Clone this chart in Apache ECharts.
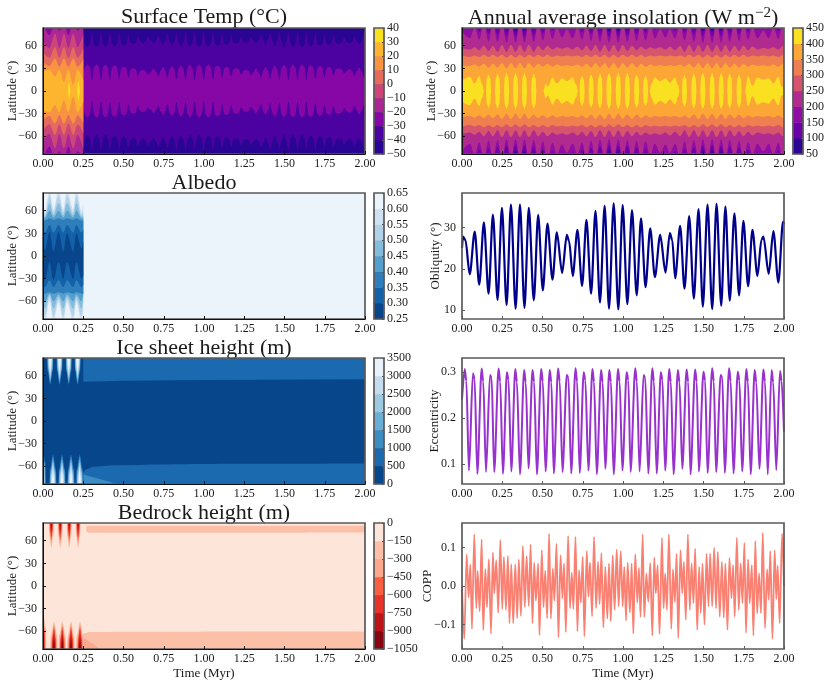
<!DOCTYPE html>
<html><head><meta charset="utf-8">
<style>html,body{margin:0;padding:0;background:#fff}#c{width:831px;height:685px}</style>
<script src="https://cdn.jsdelivr.net/npm/echarts@6/dist/echarts.min.js"></script>
</head><body><div id="c"></div>
<script>
// ---------- line panels: values
const oblT=[0,.006,.021,.048,.079,.107,.136,.165,.192,.221,
.248,.277,.304,.333,.360,.388,.415,.446,.473,.502,
.531,.562,.589,.622,.651,.665,.688,.717,.746,.773,
.802,.829,.857,.886,.913,.942,.971,.998,1.027,1.056,
1.085,1.112,1.140,1.169,1.198,1.231,1.264,1.291,1.306,1.324,
1.355,1.382,1.411,1.440,1.469,1.496,1.525,1.554,1.581,1.610,
1.636,1.663,1.692,1.721,1.748,1.777,1.804,1.835,1.860,1.872,
1.905,1.934,1.965,1.994,2.0];
const oblV=[25,27.8,27,18.7,29,16.2,31.2,14,33.1,12.5,
34.7,11.3,35.5,10.4,35.5,10.6,34.7,12.4,33,14.8,
30.9,17.4,28.8,19,28.2,26.7,18.3,29.4,15.9,31.8,
14,34,11.9,35.2,10.4,35.8,10.2,35.4,11.5,34.2,
13.6,32.2,15.6,29.8,18,28.2,19.1,28.6,26.9,17.7,
30.4,15.2,32.7,12.8,34.4,10.9,35.5,10.3,35.7,11.1,
35,12.3,33.4,13.6,31.6,15.8,29.4,18.3,27,27.8,
18.8,29.1,16.7,31.4,30.7];

const eccPeakT=[.017,.068,.122,.174,.227,.279,.331,.386,.438,.492,.545,.597,.651,.705,.756,.810,.864,.915,.969,1.023,1.076,1.128,1.182,1.235,1.287,1.341,1.395,1.448,1.500,1.554,1.607,1.659,1.713,1.766,1.818,1.872,1.923,1.975];
const eccPeakV=[.306,.297,.307,.293,.307,.299,.306,.304,.304,.306,.304,.307,.293,.308,.299,.306,.304,.304,.306,.299,.308,.293,.308,.299,.306,.304,.305,.305,.300,.308,.293,.308,.300,.306,.304,.305,.304,.302];
const eccKneeT=[.027,.078,.132,.184,.237,.289,.341,.396,.448,.502,.555,.607,.661,.715,.766,.820,.874,.925,.979,1.033,1.086,1.138,1.192,1.245,1.297,1.351,1.405,1.458,1.510,1.564,1.617,1.669,1.723,1.776,1.828,1.882,1.933,1.985];
const eccKneeV=[.280,.285,.279,.287,.279,.282,.278,.277,.278,.279,.277,.279,.287,.279,.282,.278,.277,.278,.279,.282,.279,.287,.279,.282,.278,.277,.278,.278,.281,.279,.287,.279,.281,.278,.277,.278,.277,.280];
const eccMinT=[.043,.095,.149,.200,.254,.306,.360,.413,.465,.519,.570,.624,.678,.731,.785,.837,.890,.942,.996,1.047,1.103,1.157,1.209,1.262,1.314,1.368,1.419,1.471,1.525,1.578,1.632,1.686,1.740,1.793,1.847,1.899,1.952];
const eccMinV=[.086,.079,.083,.083,.079,.084,.078,.091,.078,.084,.080,.083,.080,.081,.086,.078,.090,.078,.086,.083,.084,.080,.080,.086,.078,.090,.078,.084,.081,.083,.081,.080,.084,.078,.090,.078,.087];
const eccEndT=[0,2];
const eccEndV=[.24,.17];

const coppT=[0,.014,.029,.041,.052,.062,.076,.089,.097,.110,
.122,.132,.145,.155,.167,.180,.192,.200,.213,.225,
.238,.250,.260,.273,.285,.295,.306,.318,.331,.343,
.353,.366,.378,.390,.401,.415,.426,.438,.448,.459,
.473,.481,.496,.506,.517,.529,.541,.552,.564,.574,
.587,.599,.612,.624,.634,.645,.659,.671,.682,.692,
.705,.717,.727,.738,.750,.760,.775,.785,.795,.808,
.820,.833,.845,.855,.866,.878,.890,.903,.913,.924,
.936,.948,.961,.973,.986,.998,1.008,1.019,1.029,1.043,
1.054,1.064,1.076,1.089,1.099,1.109,1.122,1.132,1.145,1.157,
1.169,1.182,1.194,1.204,1.215,1.227,1.242,1.252,1.262,1.273,
1.285,1.300,1.310,1.322,1.333,1.343,1.357,1.368,1.378,1.390,
1.403,1.415,1.426,1.438,1.448,1.461,1.473,1.483,1.494,1.506,
1.519,1.531,1.541,1.554,1.566,1.578,1.589,1.601,1.614,1.626,
1.636,1.649,1.661,1.674,1.684,1.694,1.707,1.719,1.731,1.742,
1.754,1.764,1.777,1.787,1.800,1.810,1.822,1.833,1.845,1.857,
1.868,1.882,1.895,1.905,1.915,1.928,1.942,1.952,1.961,1.973,
1.988,2.0];
const coppV=[0,-.138,.082,-.030,.056,-.112,.134,-.058,.039,-.066,
.121,-.115,.044,-.055,.070,-.124,.087,-.019,.067,-.070,
.120,-.060,.076,-.062,.078,-.097,.057,-.097,.057,-.084,
.069,-.078,.104,-.055,.078,-.052,.108,-.097,.061,-.038,
.059,-.128,.093,-.055,.040,-.084,.136,-.085,.046,-.038,
.110,-.134,.080,-.032,.059,-.120,.130,-.058,.035,-.060,
.128,-.118,.041,-.043,.076,-.131,.091,-.028,.061,-.079,
.128,-.058,.063,-.047,.086,-.108,.050,-.085,.059,-.092,
.080,-.062,.095,-.053,.091,-.053,.050,-.090,.061,-.069,
.059,-.124,.083,-.043,.047,-.081,.134,-.081,.033,-.041,
.060,-.129,.074,-.019,.054,-.125,.125,-.058,.033,-.062,
.134,-.112,.043,-.041,.084,-.135,.093,-.019,.063,-.088,
.134,-.062,.059,-.045,.097,-.114,.050,-.071,.059,-.101,
.084,-.053,.084,-.053,.100,-.058,.089,-.080,.063,-.082,
.059,-.114,.073,-.032,.054,-.080,.126,-.062,.059,-.045,
.112,-.122,.069,-.045,.054,-.129,.117,-.071,.033,-.071,
.138,-.110,.043,-.036,.091,-.138,.093,-.034,.053,-.097,
.136,0];

// ---------- contour boundaries (latitude of each level against time)
const cycleT=[0,.048,.079,.107,.136,.165,.192,.221,.248,.277,
.304,.333,.360,.388,.415,.446,.473,.502,.531,.562,
.589,.622,.651,.688,.717,.746,.773,.802,.829,.857,
.886,.913,.942,.971,.998,1.027,1.056,1.085,1.112,1.140,
1.169,1.198,1.231,1.264,1.291,1.324,1.355,1.382,1.411,1.440,
1.469,1.496,1.525,1.554,1.581,1.610,1.636,1.663,1.692,1.721,
1.748,1.777,1.804,1.835,1.872,1.905,1.934,1.965,1.994,2.0];
const insol100=[90,90,90,90,90,88,90,84,90,82,
90,79,90,80,90,84,90,90,90,90,
90,90,90,90,90,90,90,88,90,83,
90,79,90,79,90,81,90,87,90,90,
90,90,90,90,90,90,90,90,90,85,
90,80,90,79,90,80,90,83,90,87,
90,90,90,90,90,90,90,90,90,90];
const insol150=[90,82,90,78,90,76,90,74,90,73,
90,72,90,72,90,74,90,77,90,80,
90,83,90,81,90,78,90,76,90,74,
90,72,90,72,90,73,90,75,90,77,
90,81,90,83,90,80,90,77,90,75,
90,73,90,72,90,73,90,74,90,75,
90,78,90,81,90,82,90,79,90,90];
const insol200=[80,70,84,68,90,66,90,65,90,64,
90,64,90,64,90,65,90,67,90,69,
84,71,82,70,84,68,90,66,90,65,
90,64,90,64,90,65,90,66,90,67,
86,70,82,71,82,70,90,67,90,65,
90,64,90,64,90,64,90,65,90,66,
90,68,84,70,80,70,84,69,90,88];
const insol250=[57,55,58,54,60,53,60,52,61,52,
61,52,61,52,61,52,60,54,60,55,
58,56,58,55,59,54,60,53,61,52,
61,52,61,52,61,53,60,54,59,55,
58,56,58,55,59,54,60,52,61,52,
61,52,61,52,61,52,61,52,60,53,
60,54,59,55,57,56,58,55,60,59];
const insol300=[47,45,47,45,48,45,48,45,48,44,
48,44,48,44,48,45,48,45,48,45,
47,46,47,46,47,45,48,45,48,45,
48,44,48,44,48,45,48,45,48,45,
47,46,47,46,47,46,47,45,48,45,
48,44,48,44,48,44,48,45,48,45,
48,45,47,46,47,46,47,45,48,47];
const insol350=[34,33,35,32,36,31,36,31,37,30,
37,30,37,30,37,31,36,32,36,32,
35,33,34,33,35,32,36,31,37,31,
37,30,37,30,37,31,37,31,36,32,
35,33,34,33,34,33,35,32,36,31,
37,30,37,30,37,30,37,31,36,31,
36,32,35,33,34,33,35,32,36,35];
// 400 W/m2: four merged stretches and separate lenses
const insolBlockAT=[0,.048,.079,.107,.126,.137];
const insolBlockA=[14,19,10,20,9,0];
const insolBlockBT=[.505,.52,.533,.562,.589,.622,.651,.688,.708,.722];
const insolBlockB=[0,10,6,18,10,17,13,18,9,0];
const insolBlockCT=[1.165,1.178,1.198,1.231,1.264,1.291,1.324,1.342,1.352];
const insolBlockC=[0,10,18,13,17,11,18,8,0];
const insolBlockDT=[1.757,1.777,1.804,1.835,1.872,1.905,1.934,1.965,1.985,2.0];
const insolBlockD=[0,20,7,18,15,17,10,19,6,4];
const insolLensT=[.165,.221,.277,.333,.388,.446,.746,.802,.857,.913,.971,1.027,1.085,1.140,1.382,1.440,1.496,1.554,1.610,1.663,1.721];
const insolLensH=[22,23,24,24,24,23,20,22,23,24,24,24,22,20,21,23,24,24,24,23,22];

const tempLateT=cycleT.slice(8);
const tempLate40=[78,58,
78,58,78,58,78,59,77,60,75,62,
73,63,72,63,74,61,76,60,78,59,
78,58,78,58,78,59,78,60,76,61,
74,63,72,64,72,63,75,61,77,59,
78,58,78,58,78,58,78,59,77,60,
75,61,74,63,71,63,73,62,76,75];
const tempLate30=[14,35,
14,35,14,35,14,34,15,32,18,30,
20,28,22,30,20,32,17,33,15,34,
14,35,14,35,14,35,15,33,17,32,
19,30,22,28,21,30,18,32,16,34,
15,35,14,35,14,35,14,34,16,33,
18,32,20,30,23,29,20,31,18,20];
// dome shoulders between the extrema above
const tempKneeT=[.262,.290,.318,.346,.374,.401,.430,.459,.487,.516,
.546,.575,.605,.636,.669,.702,.731,.759,.787,.815,
.843,.871,.899,.927,.956,.984,1.012,1.041,1.070,1.098,
1.126,1.154,1.183,1.214,1.247,1.277,1.307,1.339,1.368,1.396,
1.425,1.454,1.482,1.510,1.539,1.567,1.595,1.623,1.649,1.677,
1.706,1.734,1.762,1.790,1.819,1.853,1.888,1.919,1.949,1.979];
const tempKnee40=[62,62,62,62,62,62,62,62,63,63,
64,64,66,66,67,67,67,67,65,65,
64,64,63,63,62,62,62,62,62,62,
63,63,64,64,65,65,67,67,68,68,
67,67,65,65,63,63,62,62,62,62,
62,62,63,63,64,64,65,65,66,66];
const tempKnee30=[32,32,32,32,32,32,32,32,31,31,
29,29,27,27,25,25,27,27,29,29,
30,30,31,31,32,32,32,32,32,32,
30,30,29,29,27,27,25,25,27,27,
29,29,31,31,32,32,32,32,32,32,
31,31,30,30,29,29,27,27,26,26];

const tempEarlyT=[0,.039,.075,.101,.13,.157,.188,.215,.25];
const tempEarly10=[90,74,90,80,90,74,90,80,90];
const tempEarly0=[66,57,76,57,76,57,76,58,76];
const tempEarlyP10=[52,44,58,44,58,43,58,44,56];
const tempEarlyP20=[38,33,43,32,43,32,43,32,42];
const tempEarlyP30=[26,28,19,28,12,28,8,28,14];
const tempLensT=[.155,.163,.171,.21,.219,.23];
const tempLensV=[0,11,0,0,13,0];

const albT=[0,.012,.041,.065,.097,.126,.149,.188,.207,.24,.25];
const albN60=[72,60,88,62,88,62,88,62,88,60,70];
const albN55=[64,55,80,58,80,58,80,58,80,55,60];
const albN50=[56,52,70,54,70,54,70,54,70,52,54];
const albN45=[50,50,60,51,60,51,60,51,60,50,50];
const albN40=[47,47,50,48,50,48,50,48,50,47,47];
const albN35=[34,31,41,31,41,31,41,31,41,31,35];
const albN30=[20,8,32,6,32,6,30,6,30,10,20];
const albS60=[72,88,60,88,62,88,62,88,62,88,70];
const albS55=[64,80,55,80,58,80,58,80,58,80,60];
const albS50=[56,70,52,70,54,70,54,70,54,70,54];
const albS45=[52,60,50,60,51,60,51,60,51,60,50];
const albS40=[50,50,48,50,48,50,48,50,48,50,50];
const albS35=[38,41,32,41,32,41,32,41,32,41,38];
const albS30=[26,32,8,32,8,30,8,30,8,30,26];

const lobeWaist=.75;   // lobe half width fraction at the shoulder
const lobeBulge=.42;   // shoulder position between tip and pole
const iceNorthCentres=[.045,.103,.16,.215];
const iceSouthCentres=[-.004,.062,.118,.174,.228];
const iceSouthTipShift=[16,0,0,0,0];
const iceNorthTips=[48,50,53,56,60,65];
const iceNorthHalf=[.021,.019,.017,.014,.011,.008];
const iceSouthTips=[-44,-47,-51,-55,-60,-66];
const iceSouthHalf=[.025,.022,.019,.016,.012,.008];
const iceNorthEdgeT=[.25,.5,1,2];
const iceNorthEdge=[52,53.5,54.5,55.5];
const iceSouthEdgeT=[.25,.27,.31,.45,.75,1.25,2];
const iceSouthEdge=[-69,-64,-60.5,-58.5,-57.5,-56.8,-56.4];
const iceWedgeT=[.25,.47];
const iceWedge=[-71,-84];

const bedNorthCentres=[.052,.107,.163,.218];
const bedSouthCentres=[-.002,.068,.12,.174,.23];
const bedSouthTipShift=[18,0,0,0,0];
const bedNorthTips=[50,55,60,65,72,79];
const bedNorthHalf=[.017,.014,.011,.009,.006,.003];
const bedSouthTips=[-47,-50,-54,-58,-64,-71];
const bedSouthHalf=[.026,.021,.017,.013,.009,.005];
const bedNorthBandT=[.268,.272,.28,.5,2];
const bedNorthBand=[76,71.5,70.5,70.5,71];
const bedNorthCap=[76,79.5,80,80,80];
const bedSouthBandT=[.24,.26,.29,.5,2];
const bedSouthBand=[-64,-62.5,-61,-60.5,-60.3];
const bedWedgeT=[.245,.36];
const bedWedge=[-68,-84];

// ---------- colour bars
const tempLevels=[-50,-40,-30,-20,-10,0,10,20,30,40];
const insolLevels=[50,100,150,200,250,300,350,400,450];
const albLevels=[.25,.30,.35,.40,.45,.50,.55,.60,.65];
const iceLevels=[0,500,1000,1500,2000,2500,3000,3500];
const bedLevels=[-1050,-900,-750,-600,-450,-300,-150,0];
const tempColors=['#2a0593','#4c02a1','#8606a6','#ac2694','#cc4778','#e56b5d','#f89441','#fdb42f','#f9e021'];
const insolColors=['#2c0594','#6a00a8','#8f0da4','#b12a90','#d6556d','#f07f4f','#fca636','#f9e021'];
const albColors=['#08458a','#1361a9','#2e7ebc','#559fcd','#85bcdc','#b2d2e8','#d0e2f2','#ebf3fb'];
const iceColors=['#08468b','#1b69af','#3d8dc4','#6aaed6','#9dcae1','#c8dcf0','#e9f2fa'];
const bedColors=['#850610','#bd141a','#e8332a','#fb5f42','#fba88d','#fcc0a8','#fee5d9'];

const latTicks=[-60,-30,0,30,60];
const LAT=83.5;
const FONT='"Liberation Serif",serif';
const TXT='#1a1a1a';
const FRAME='#5a5a5a';
const rows=[28,193,358,523], H=126, W=322, LX=43, RX=462, CLX=374, CRX=793, CW=10;

const minus=v=>String(v).replace('-','\u2212');
const grids=[],xAxes=[],yAxes=[],series=[],graphics=[];
const zip=(a,b)=>a.map((t,i)=>[t,b[i]]);
const byT=(a,b)=>a[0]-b[0];

function frame(x,y,w,h){
  graphics.push({type:'rect',silent:true,z:100,shape:{x,y,width:w,height:h},style:{fill:'none',stroke:FRAME,lineWidth:1.7}});
}
function panel(x,y,o){
  const g=grids.length, dark=o.dark;
  const tick=(vals)=>({show:true,inside:true,length:3,customValues:vals,lineStyle:{color:dark?'#111':FRAME,width:1}});
  grids.push({left:x,top:y,width:W,height:H,containLabel:false});
  xAxes.push({type:'value',gridIndex:g,min:0,max:2,interval:.25,z:110,position:'bottom',nameMoveOverlap:false,
    axisLine:{show:!!dark,onZero:false,lineStyle:{color:'#111',width:1}},axisTick:{show:true,inside:true,length:3,lineStyle:{color:dark?'#111':FRAME,width:1}},splitLine:{show:false},
    name:o.xName||'',nameLocation:'middle',nameGap:18,nameTextStyle:{fontFamily:FONT,fontSize:13,color:TXT},
    axisLabel:{fontFamily:FONT,fontSize:12,color:TXT,margin:4,formatter:v=>v.toFixed(2)}});
  const yi=yAxes.length;
  yAxes.push({type:'value',gridIndex:g,min:o.min,max:o.max,z:110,position:'left',nameMoveOverlap:false,
    axisLine:{show:!!dark,onZero:false,lineStyle:{color:'#111',width:1}},axisTick:tick(o.ticks),splitLine:{show:false},
    name:o.yName,nameLocation:'middle',nameGap:o.nameGap,nameTextStyle:{fontFamily:FONT,fontSize:13,color:TXT},
    axisLabel:{fontFamily:FONT,fontSize:12,color:TXT,margin:6,customValues:o.ticks,formatter:o.fmt||minus}});
  frame(x,y,W,H);
  return {x:xAxes.length-1,y:yi};
}
function band(p,pts,color,origin){
  series.push({type:'line',xAxisIndex:p.x,yAxisIndex:p.y,data:pts,symbol:'none',showSymbol:false,silent:true,
    smooth:.35,smoothMonotone:'x',lineStyle:{width:0},areaStyle:{color,opacity:1,origin},animation:false});
}
function flat(p,pts,color,origin){
  series.push({type:'line',xAxisIndex:p.x,yAxisIndex:p.y,data:pts,symbol:'none',showSymbol:false,silent:true,
    lineStyle:{width:0},areaStyle:{color,opacity:1,origin},animation:false});
}
function both(p,pts,color){ // symmetric band around the equator
  band(p,pts,color,0);
  band(p,pts.map(q=>[q[0],-q[1]]),color,0);
}
function fillAll(p,t0,t1,color){
  flat(p,[[t0,0],[t1,0]],color,90);
  flat(p,[[t0,0],[t1,0]],color,-90);
}
function lobes(p,centres,tips,halves,colors,pole,shift){
  tips.forEach((tip,k)=>{
    const pts=[];
    centres.forEach((c,i)=>{
      const tp=tip+(shift?shift[i]:0), h=halves[k], sh=tp+lobeBulge*(pole-tp);
      pts.push([c-h,pole],[c-lobeWaist*h,sh],[c,tp],[c+lobeWaist*h,sh],[c+h,pole]);
    });
    band(p,pts,colors[k],pole);
  });
}
function colorbar(x,y,levels,colors,fmt){
  const g=grids.length;
  grids.push({left:x,top:y,width:CW,height:H});
  const xi=xAxes.length;
  xAxes.push({type:'category',gridIndex:g,data:[''],axisLine:{show:false},axisTick:{show:false},axisLabel:{show:false},splitLine:{show:false}});
  const yc=yAxes.length;
  yAxes.push({type:'category',gridIndex:g,data:colors.map((c,i)=>String(i)),show:false,axisLine:{show:false},axisTick:{show:false},axisLabel:{show:false},splitLine:{show:false}});
  yAxes.push({type:'value',gridIndex:g,position:'right',min:levels[0],max:levels[levels.length-1],interval:levels[1]-levels[0],z:110,
    axisLine:{show:false},axisTick:{show:true,inside:true,length:2,lineStyle:{color:FRAME,width:1}},splitLine:{show:false},
    axisLabel:{fontFamily:FONT,fontSize:12,color:TXT,margin:3,align:'left',formatter:fmt||minus}});
  series.push({type:'heatmap',xAxisIndex:xi,yAxisIndex:yc,silent:true,animation:false,
    data:colors.map((c,i)=>({value:[0,i,i],itemStyle:{color:c}}))});
  frame(x,y,CW,H);
}
const latOpt=(extra)=>Object.assign({min:-LAT,max:LAT,yName:'Latitude (\u00b0)',nameGap:24,ticks:latTicks,dark:true},extra||{});

// ---- Surface temperature
{
  const p=panel(LX,rows[0],latOpt());
  const c=tempColors;
  fillAll(p,0,2,c[0]);
  both(p,zip(tempLateT,tempLate40).concat(zip(tempKneeT,tempKnee40)).sort(byT),c[1]);
  both(p,zip(tempLateT,tempLate30).concat(zip(tempKneeT,tempKnee30)).sort(byT),c[2]);
  fillAll(p,0,.25,c[2]);
  both(p,zip(tempEarlyT,tempEarly10),c[3]);
  both(p,zip(tempEarlyT,tempEarly0),c[4]);
  both(p,zip(tempEarlyT,tempEarlyP10),c[5]);
  both(p,zip(tempEarlyT,tempEarlyP20),c[6]);
  both(p,zip(tempEarlyT,tempEarlyP30),c[7]);
  both(p,zip(tempLensT,tempLensV),c[8]);
}
// ---- Insolation
{
  const p=panel(RX,rows[0],latOpt());
  const c=insolColors;
  fillAll(p,0,2,c[0]);
  [insol100,insol150,insol200,insol250,insol300,insol350].forEach((v,i)=>both(p,zip(cycleT,v),c[i+1]));
  const lensPts=[];
  const hw=.0165;
  insolLensT.forEach((t,i)=>{
    const h=insolLensH[i];
    lensPts.push([t-hw,0],[t-.7*hw,.75*h],[t,h],[t+.7*hw,.75*h],[t+hw,0]);
  });
  const yellow=zip(insolBlockAT,insolBlockA).concat(zip(insolBlockBT,insolBlockB),zip(insolBlockCT,insolBlockC),zip(insolBlockDT,insolBlockD),lensPts).sort(byT);
  both(p,yellow,c[7]);
}
// ---- Albedo
{
  const p=panel(LX,rows[1],latOpt());
  const c=albColors;
  fillAll(p,0,2,c[7]);
  const north=[albN60,albN55,albN50,albN45,albN40,albN35,albN30];
  const south=[albS60,albS55,albS50,albS45,albS40,albS35,albS30];
  north.forEach((v,i)=>band(p,zip(albT,v),c[6-i],0));
  south.forEach((v,i)=>band(p,zip(albT,v.map(a=>-a)),c[6-i],0));
}
// ---- Ice sheet
{
  const p=panel(LX,rows[2],latOpt());
  const c=iceColors;
  fillAll(p,0,2,c[0]);
  flat(p,zip(iceNorthEdgeT,iceNorthEdge),c[1],90);
  band(p,zip(iceSouthEdgeT,iceSouthEdge),c[1],-90);
  flat(p,zip(iceWedgeT,iceWedge),c[2],-90);
  lobes(p,iceNorthCentres,iceNorthTips,iceNorthHalf,c.slice(1),90);
  lobes(p,iceSouthCentres,iceSouthTips,iceSouthHalf,c.slice(1),-90,iceSouthTipShift);
}
// ---- Bedrock
{
  const p=panel(LX,rows[3],latOpt({xName:'Time (Myr)'}));
  const c=bedColors.slice().reverse();
  fillAll(p,0,2,c[0]);
  band(p,zip(bedNorthBandT,bedNorthBand),c[1],90);
  band(p,zip(bedNorthBandT,bedNorthCap),c[0],90);
  band(p,zip(bedSouthBandT,bedSouthBand),c[1],-90);
  flat(p,zip(bedWedgeT,bedWedge),c[2],-90);
  lobes(p,bedNorthCentres,bedNorthTips,bedNorthHalf,c.slice(1),90);
  lobes(p,bedSouthCentres,bedSouthTips,bedSouthHalf,c.slice(1),-90,bedSouthTipShift);
}
// ---- Line panels
function linePanel(row,opt,pts,color,width){
  const p=panel(RX,rows[row],opt);
  series.push({type:'line',xAxisIndex:p.x,yAxisIndex:p.y,data:pts,symbol:'none',showSymbol:false,silent:true,animation:false,
    smooth:.3,smoothMonotone:'x',lineStyle:{color,width,join:'round'}});
}
linePanel(1,{min:7.9,max:38.3,yName:'Obliquity (\u00b0)',nameGap:20,ticks:[10,20,30]},zip(oblT,oblV),'#00008b',2.2);
const eccPts=zip(eccPeakT,eccPeakV).concat(zip(eccKneeT,eccKneeV),zip(eccMinT,eccMinV),zip(eccEndT,eccEndV)).sort(byT);
linePanel(2,{min:.057,max:.33,yName:'Eccentricity',nameGap:21,ticks:[.1,.2,.3],fmt:v=>v.toFixed(1)},eccPts,'#9932cc',2);
linePanel(3,{min:-.164,max:.164,yName:'COPP',nameGap:28,ticks:[-.1,0,.1],fmt:v=>minus(v.toFixed(1)),xName:'Time (Myr)'},zip(coppT,coppV),'#fa8072',1.8);

// ---- Colour bars
colorbar(CLX,rows[0],tempLevels,tempColors);
colorbar(CRX,rows[0],insolLevels,insolColors);
colorbar(CLX,rows[1],albLevels,albColors,v=>v.toFixed(2));
colorbar(CLX,rows[2],iceLevels,iceColors);
colorbar(CLX,rows[3],bedLevels,bedColors);

// ---- Titles
const T=(text,x,top)=>({text,left:x,top,textAlign:'center',padding:0,
  textStyle:{fontFamily:FONT,fontSize:22,fontWeight:'normal',color:TXT,
    rich:{sup:{fontFamily:FONT,fontSize:15,color:TXT,padding:[0,0,9,0]},n:{fontFamily:FONT,fontSize:22,color:TXT}}}});
const titles=[
 T('Surface Temp (\u00b0C)',204,6),
 T('{n|Annual average insolation (W m}{sup|\u22122}{n|)}',623,6),
 T('Albedo',204,172),
 T('Ice sheet height (m)',204,337),
 T('Bedrock height (m)',204,502)
];
const chart=echarts.init(document.getElementById('c'),null,{renderer:'canvas'});
chart.setOption({animation:false,backgroundColor:'#fff',title:titles,grid:grids,xAxis:xAxes,yAxis:yAxes,series,graphic:{elements:graphics}});
</script></body></html>
